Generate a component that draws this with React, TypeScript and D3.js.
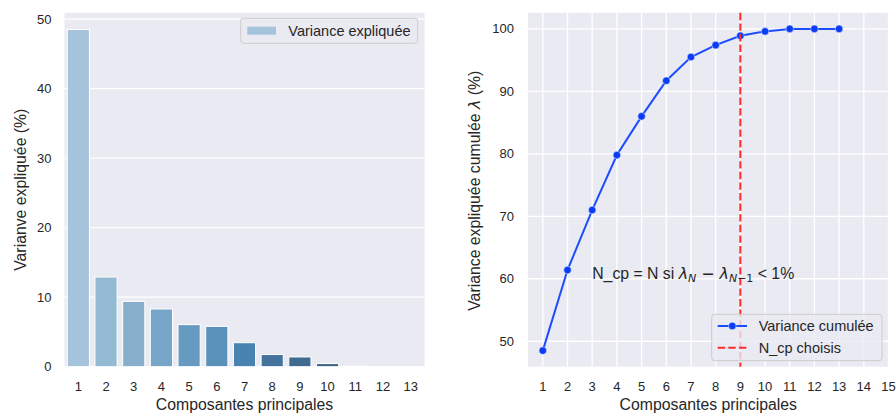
import React, { useEffect, useRef } from 'react';
import * as d3 from 'd3';

const components = ['1', '2', '3', '4', '5', '6', '7', '8', '9', '10', '11', '12', '13'];
const varianceExpliquee = [48.5, 12.9, 9.4, 8.3, 6.05, 5.8, 3.45, 1.75, 1.4, 0.45, 0.12, 0.03, 0.01];
const varianceCumulee = [48.5, 61.4, 71.0, 79.8, 86.0, 91.7, 95.5, 97.4, 98.9, 99.6, 100.0, 100.0, 100.0];
const cumulX = [1, 2, 3, 4, 5, 6, 7, 8, 9, 10, 11, 12, 13];
const leftYTicks = [0, 10, 20, 30, 40, 50];
const rightYTicks = [50, 60, 70, 80, 90, 100];
const rightXTicks = [1, 2, 3, 4, 5, 6, 7, 8, 9, 10, 11, 12, 13, 14, 15];
const nChoisi = 9;
const textPos = [3, 60];

const barColors = ['#a5c3da', '#94b9d3', '#87aeca', '#77a5c7', '#679ac0', '#5a91bb', '#4983b2',
  '#44749b', '#416a90', '#3e6486', '#3b5e7e', '#385877', '#355270'];

const FONT = '"Liberation Sans", Arial, sans-serif';
const MATH = '"DejaVu Sans", sans-serif';
const BG = '#eaeaf2';
const TXT = '#262626';

const App = () => {
  const ref = useRef<SVGSVGElement>(null);

  useEffect(() => {
    const svg = d3.select(ref.current);
    svg.selectAll('*').remove();

    // ---------- left: bar chart ----------
    const L = { left: 64.5, right: 424.5, top: 12.7, bottom: 366.7 };
    const x = d3.scaleBand().domain(components).range([L.left, L.right]).paddingInner(0.2).paddingOuter(0.1);
    const y = d3.scaleLinear().domain([0, d3.max(varianceExpliquee)! * 1.05]).range([L.bottom, L.top]);

    const gl = svg.append('g');
    gl.append('rect').attr('x', L.left).attr('y', L.top).attr('width', L.right - L.left)
      .attr('height', L.bottom - L.top).attr('fill', BG);
    gl.selectAll('.hgrid').data(leftYTicks).enter().append('line')
      .attr('x1', L.left).attr('x2', L.right).attr('y1', (d) => y(d)).attr('y2', (d) => y(d))
      .attr('stroke', '#fff').attr('stroke-width', 1.3);
    gl.selectAll('.bar').data(varianceExpliquee).enter().append('rect')
      .attr('x', (d, i) => x(components[i])!)
      .attr('y', (d) => y(d))
      .attr('width', x.bandwidth())
      .attr('height', (d) => y(0) - y(d))
      .attr('fill', (d, i) => barColors[i])
      .attr('stroke', '#fff').attr('stroke-width', 1);
    gl.selectAll('.yt').data(leftYTicks).enter().append('text')
      .attr('x', 51.5).attr('y', (d) => y(d) + 4.6).attr('text-anchor', 'end')
      .attr('font-family', FONT).attr('font-size', 13).attr('fill', TXT).text((d) => d);
    gl.selectAll('.xt').data(components).enter().append('text')
      .attr('x', (d) => x(d)! + x.bandwidth() / 2).attr('y', 391).attr('text-anchor', 'middle')
      .attr('font-family', FONT).attr('font-size', 13).attr('fill', TXT).text((d) => d);
    gl.append('text').attr('x', (L.left + L.right) / 2).attr('y', 410).attr('text-anchor', 'middle')
      .attr('font-family', FONT).attr('font-size', 15.8).attr('fill', TXT).text('Composantes principales');
    gl.append('text').attr('transform', `translate(25.5, ${(L.top + L.bottom) / 2}) rotate(-90)`)
      .attr('text-anchor', 'middle').attr('font-family', FONT).attr('font-size', 15.8).attr('fill', TXT)
      .text('Varianve expliquée (%)');
    // legend
    gl.append('rect').attr('x', 240.7).attr('y', 18.3).attr('width', 177).attr('height', 25).attr('rx', 3)
      .attr('fill', BG).attr('fill-opacity', 0.8).attr('stroke', '#cccccc').attr('stroke-width', 1);
    gl.append('rect').attr('x', 247.3).attr('y', 26.7).attr('width', 28.7).attr('height', 8).attr('fill', barColors[0]);
    gl.append('text').attr('x', 288.3).attr('y', 35.8).attr('font-family', FONT).attr('font-size', 14.5)
      .attr('fill', TXT).text('Variance expliquée');

    // ---------- right: cumulative line ----------
    const R = { left: 528, right: 888.5, top: 12.8, bottom: 366.7 };
    const xr = d3.scaleLinear().domain([0.4, 15]).range([R.left, R.right]);
    const ymin = d3.min(varianceCumulee)!;
    const ymax = d3.max(varianceCumulee)!;
    const pad = (ymax - ymin) * 0.05;
    const yr = d3.scaleLinear().domain([ymin - pad, ymax + pad]).range([R.bottom, R.top]);

    const gr = svg.append('g');
    gr.append('rect').attr('x', R.left).attr('y', R.top).attr('width', R.right - R.left)
      .attr('height', R.bottom - R.top).attr('fill', BG);
    gr.selectAll('.hg').data(rightYTicks).enter().append('line')
      .attr('x1', R.left).attr('x2', R.right).attr('y1', (d) => yr(d)).attr('y2', (d) => yr(d))
      .attr('stroke', '#fff').attr('stroke-width', 1.3);
    gr.selectAll('.vg').data(rightXTicks).enter().append('line')
      .attr('x1', (d) => xr(d)).attr('x2', (d) => xr(d)).attr('y1', R.top).attr('y2', R.bottom)
      .attr('stroke', '#fff').attr('stroke-width', 1.3);

    const line = d3.line<number>().x((d, i) => xr(cumulX[i])).y((d) => yr(d));
    gr.append('path').datum(varianceCumulee).attr('d', line).attr('fill', 'none')
      .attr('stroke', '#1a4dff').attr('stroke-width', 2);
    gr.selectAll('.pt').data(varianceCumulee).enter().append('circle')
      .attr('cx', (d, i) => xr(cumulX[i])).attr('cy', (d) => yr(d)).attr('r', 3.8)
      .attr('fill', '#0a3cf5').attr('stroke', '#fff').attr('stroke-width', 0.5);

    gr.append('line').attr('x1', xr(nChoisi)).attr('x2', xr(nChoisi)).attr('y1', R.top).attr('y2', R.bottom)
      .attr('stroke', '#ff2a2a').attr('stroke-width', 2).attr('stroke-dasharray', '7.4,3.2');

    // annotation
    const ann = gr.append('text').attr('x', xr(textPos[0])).attr('y', yr(textPos[1]))
      .attr('font-family', FONT).attr('font-size', 15.8).attr('fill', TXT);
    ann.append('tspan').text('N_cp = N si ');
    ann.append('tspan').attr('font-family', MATH).attr('font-style', 'italic').text('λ');
    ann.append('tspan').attr('font-family', MATH).attr('font-style', 'italic').attr('font-size', 11)
      .attr('dy', 3).text('N');
    ann.append('tspan').attr('font-family', MATH).attr('dy', -3).text(' − ');
    ann.append('tspan').attr('font-family', MATH).attr('font-style', 'italic').text('λ');
    ann.append('tspan').attr('font-family', MATH).attr('font-style', 'italic').attr('font-size', 11)
      .attr('dy', 3).text('N');
    ann.append('tspan').attr('font-family', MATH).attr('font-size', 11).text('−1');
    ann.append('tspan').attr('dy', -3).text(' < 1%');

    gr.selectAll('.yt').data(rightYTicks).enter().append('text')
      .attr('x', 514).attr('y', (d) => yr(d) + 4.6).attr('text-anchor', 'end')
      .attr('font-family', FONT).attr('font-size', 13).attr('fill', TXT).text((d) => d);
    gr.selectAll('.xt').data(rightXTicks).enter().append('text')
      .attr('x', (d) => xr(d)).attr('y', 391).attr('text-anchor', 'middle')
      .attr('font-family', FONT).attr('font-size', 13).attr('fill', TXT).text((d) => d);
    gr.append('text').attr('x', 708.3).attr('y', 410).attr('text-anchor', 'middle')
      .attr('font-family', FONT).attr('font-size', 15.8).attr('fill', TXT).text('Composantes principales');
    const yl = gr.append('text').attr('transform', `translate(479.5, ${(R.top + R.bottom) / 2 + 1}) rotate(-90)`)
      .attr('text-anchor', 'middle').attr('font-family', FONT).attr('font-size', 15.8).attr('fill', TXT);
    yl.append('tspan').text('Variance expliquée cumulée  ');
    yl.append('tspan').attr('font-family', MATH).attr('font-style', 'italic').text('λ');
    yl.append('tspan').text(' (%)');

    // legend
    gr.append('rect').attr('x', 711.7).attr('y', 314.3).attr('width', 170.3).attr('height', 46.4).attr('rx', 3)
      .attr('fill', BG).attr('fill-opacity', 0.8).attr('stroke', '#cccccc').attr('stroke-width', 1);
    gr.append('line').attr('x1', 717.7).attr('x2', 747).attr('y1', 326).attr('y2', 326)
      .attr('stroke', '#1a4dff').attr('stroke-width', 2);
    gr.append('circle').attr('cx', 732.3).attr('cy', 326).attr('r', 3.8).attr('fill', '#0a3cf5')
      .attr('stroke', '#fff').attr('stroke-width', 0.5);
    gr.append('line').attr('x1', 717.7).attr('x2', 747).attr('y1', 347.7).attr('y2', 347.7)
      .attr('stroke', '#ff2a2a').attr('stroke-width', 2).attr('stroke-dasharray', '7.4,3.2');
    gr.append('text').attr('x', 758.7).attr('y', 331.2).attr('font-family', FONT).attr('font-size', 14.5)
      .attr('fill', TXT).text('Variance cumulée');
    gr.append('text').attr('x', 758.7).attr('y', 352.9).attr('font-family', FONT).attr('font-size', 14.5)
      .attr('fill', TXT).text('N_cp choisis');
  }, []);

  return (
    <svg ref={ref} width={896} height={413}
      style={{ position: 'absolute', left: 0, top: 0, background: '#fff' }} />
  );
};

export default App;
